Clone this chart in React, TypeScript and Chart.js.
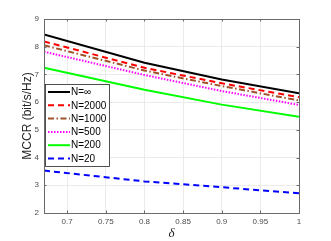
import React, { useEffect, useRef } from "react";
import { Chart, registerables } from "chart.js";

Chart.register(...registerables);

const deltaValues = [0.67, 0.8, 0.9, 1.0];
const seriesNames = ["N=∞", "N=2000", "N=1000", "N=500", "N=200", "N=20"];
const nInf = [8.44, 7.42, 6.82, 6.32];
const n2000 = [8.19, 7.24, 6.68, 6.18];
const n1000 = [8.05, 7.14, 6.58, 6.06];
const n500 = [7.82, 6.98, 6.4, 5.9];
const n200 = [7.24, 6.45, 5.91, 5.47];
const n20 = [3.53, 3.14, 2.93, 2.71];
const xTicks = [0.7, 0.75, 0.8, 0.85, 0.9, 0.95, 1];
const xTickLabels = ["0.7", "0.75", "0.8", "0.85", "0.9", "0.95", "1"];
const yTicks = [2, 3, 4, 5, 6, 7, 8, 9];
const yTickLabels = ["2", "3", "4", "5", "6", "7", "8", "9"];

const styles = [
  { color: "#000000", dash: [] as number[] },
  { color: "#ff0000", dash: [6, 4] },
  { color: "#a0522d", dash: [6, 2.5, 1.5, 2.5] },
  { color: "#ff00ff", dash: [1.5, 1.5] },
  { color: "#00ff00", dash: [] as number[] },
  { color: "#0000ff", dash: [6, 4] },
];

const AXIS_COLOR = "#6a6a6a";

const boxPlugin = {
  id: "matlabBox",
  afterDraw(chart: any) {
    const { ctx, chartArea, scales } = chart;
    const { left, top, right, bottom } = chartArea;
    ctx.save();
    ctx.strokeStyle = AXIS_COLOR;
    ctx.lineWidth = 1;
    ctx.setLineDash([]);
    ctx.strokeRect(Math.round(left) + 0.5, Math.round(top) + 0.5, Math.round(right - left), Math.round(bottom - top));
    const tl = 2.5;
    ctx.beginPath();
    for (const v of xTicks) {
      const x = Math.round(scales.x.getPixelForValue(v)) + 0.5;
      ctx.moveTo(x, bottom);
      ctx.lineTo(x, bottom - tl);
      ctx.moveTo(x, top);
      ctx.lineTo(x, top + tl);
    }
    for (const v of yTicks) {
      const y = Math.round(scales.y.getPixelForValue(v)) + 0.5;
      ctx.moveTo(left, y);
      ctx.lineTo(left + tl, y);
      ctx.moveTo(right, y);
      ctx.lineTo(right - tl, y);
    }
    ctx.stroke();

    // legend
    const lx = 45.5, ly = 84.5, lw = 64, lh = 82;
    ctx.fillStyle = "#ffffff";
    ctx.fillRect(lx, ly, lw, lh);
    ctx.strokeStyle = "#262626";
    ctx.lineWidth = 0.8;
    ctx.strokeRect(lx, ly, lw, lh);
    ctx.font = "10px 'Liberation Sans', Arial, sans-serif";
    ctx.textBaseline = "middle";
    ctx.textAlign = "left";
    const ds = chart.data.datasets;
    for (let i = 0; i < ds.length; i++) {
      const y = 92 + i * 13.3;
      ctx.strokeStyle = ds[i].borderColor;
      ctx.lineWidth = 2;
      ctx.setLineDash(ds[i].borderDash || []);
      ctx.beginPath();
      ctx.moveTo(48, y);
      ctx.lineTo(70, y);
      ctx.stroke();
      ctx.setLineDash([]);
      ctx.fillStyle = "#000000";
      ctx.fillText(ds[i].label, 71, y + 0.5);
    }
    ctx.restore();
  },
};

export default function App() {
  const ref = useRef<HTMLCanvasElement>(null);
  useEffect(() => {
    document.body.style.margin = "0";
    const all = [nInf, n2000, n1000, n500, n200, n20];
    const chart = new Chart(ref.current as HTMLCanvasElement, {
      type: "line",
      data: {
        datasets: all.map((arr, i) => ({
          label: seriesNames[i],
          data: arr.map((v, j) => ({ x: deltaValues[j], y: v })),
          borderColor: styles[i].color,
          backgroundColor: styles[i].color,
          borderDash: styles[i].dash,
          borderWidth: 2,
          pointRadius: 0,
          tension: 0,
          fill: false,
        })),
      },
      options: {
        animation: false,
        responsive: false,
        layout: { padding: { top: 19, right: 32, left: 0, bottom: 0 } },
        plugins: { legend: { display: false }, tooltip: { enabled: false } },
        scales: {
          x: {
            type: "linear",
            min: 0.67,
            max: 1,
            afterBuildTicks: (s: any) => {
              s.ticks = xTicks.map((v) => ({ value: v }));
            },
            afterFit: (s: any) => {
              s.height = 28;
            },
            ticks: {
              font: { size: 8, family: "'Liberation Sans', Arial, sans-serif" },
              color: "#4d4d4d",
              padding: 4,
              maxRotation: 0,
              autoSkip: false,
              callback: (_v: any, i: number) => xTickLabels[i],
            },
            grid: { color: "#e6e6e6", lineWidth: 0.8, drawTicks: false },
            border: { display: true, color: AXIS_COLOR },
            title: {
              display: true,
              text: "δ",
              color: "#262626",
              padding: 0,
              font: { size: 13, style: "italic", family: "'Liberation Serif', 'DejaVu Serif', serif" },
            },
          },
          y: {
            type: "linear",
            min: 2,
            max: 9,
            afterBuildTicks: (s: any) => {
              s.ticks = yTicks.map((v) => ({ value: v }));
            },
            afterFit: (s: any) => {
              s.width = 44;
            },
            ticks: {
              font: { size: 8, family: "'Liberation Sans', Arial, sans-serif" },
              color: "#4d4d4d",
              padding: 5,
              autoSkip: false,
              callback: (_v: any, i: number) => yTickLabels[i],
            },
            grid: { color: "#e6e6e6", lineWidth: 0.8, drawTicks: false },
            border: { display: true, color: AXIS_COLOR },
            title: {
              display: true,
              text: "MCCR (bit/s/Hz)",
              color: "#262626",
              padding: { top: 20, bottom: 0 },
              font: { size: 12, family: "'Liberation Sans', Arial, sans-serif" },
            },
          },
        },
      },
      plugins: [boxPlugin],
    });
    return () => chart.destroy();
  }, []);
  return (
    <div style={{ position: "absolute", left: 0, top: 0, width: 331, height: 241, background: "#fff" }}>
      <canvas ref={ref} width={331} height={241} style={{ display: "block" }} />
    </div>
  );
}
